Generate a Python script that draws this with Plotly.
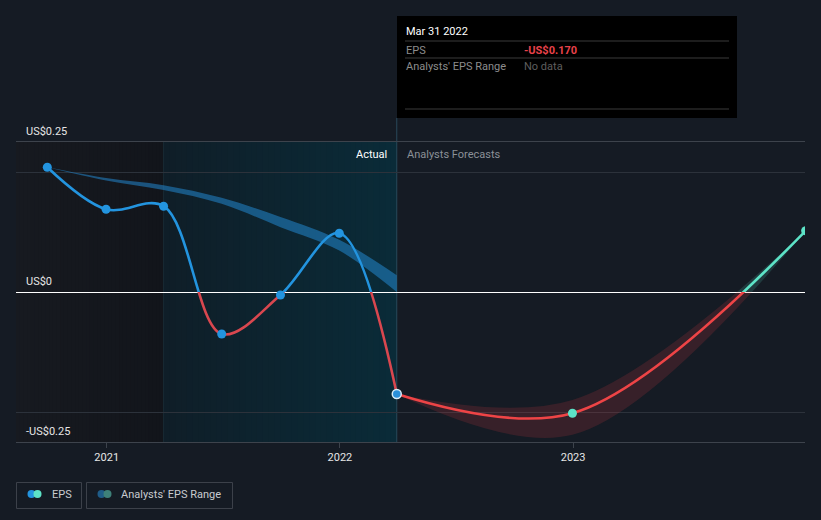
import plotly.graph_objects as go
import pandas as pd
import numpy as np

# ---------------- data ----------------
actual_dates = ["2020-09-30", "2020-12-31", "2021-03-31", "2021-06-30",
                "2021-09-30", "2021-12-31", "2022-03-31"]
actual_eps = [0.208, 0.138, 0.143, -0.070, -0.005, 0.098, -0.170]

forecast_dates = ["2022-03-31", "2022-12-31", "2023-12-31"]
forecast_eps = [-0.170, -0.202, 0.102]
forecast_high = [-0.170, -0.180, 0.102]
forecast_low = [-0.170, -0.238, 0.102]

past_range_dates = ["2020-09-30", "2020-12-31", "2021-03-31", "2021-06-30",
                    "2021-09-30", "2021-12-31", "2022-03-31"]
past_range_high = [0.208, 0.190, 0.178, 0.157, 0.125, 0.087, 0.028]
past_range_low = [0.208, 0.186, 0.170, 0.147, 0.108, 0.069, 0.000]

tick_dates = ["2021-01-01", "2022-01-01", "2023-01-01"]
tick_labels = ["2021", "2022", "2023"]
y_label_vals = [0.25, 0, -0.25]
y_labels = ["US$0.25", "US$0", "-US$0.25"]

x_range = ["2020-08-12", "2023-12-30"]
y_range = [-0.25, 0.25]
past_start = "2021-03-31"
today = "2022-03-31"

# ---------------- styling ----------------
BG = "#151b24"
BLUE = "#2394df"
RED_A = "#d9474f"
RED_F = "#ee4446"
TEAL = "#5de3c7"
FONT = "Roboto"

W, H = 821, 520
ML, MR, MT, MB = 16, 16, 142, 78
PW, PH = W - ML - MR, H - MT - MB


def px(x):
    return (x - ML) / PW


def py(y):
    return (H - MB - y) / PH


fig = go.Figure()

# analysts' past EPS range band (main subplot)
fig.add_trace(go.Scatter(x=past_range_dates, y=past_range_high, mode="lines",
                         line=dict(width=0, shape="spline", color="rgba(0,0,0,0)"),
                         hoverinfo="skip", showlegend=False))
fig.add_trace(go.Scatter(x=past_range_dates, y=past_range_low, mode="lines",
                         line=dict(width=0, shape="spline", color="rgba(0,0,0,0)"),
                         fill="tonexty", fillcolor="rgba(35,135,205,0.55)",
                         hoverinfo="skip", showlegend=False))

# forecast band: below zero (y2) red, above zero (y3) teal
for ax, col in (("y2", "rgba(235,65,70,0.16)"), ("y3", "rgba(93,227,199,0.16)")):
    fig.add_trace(go.Scatter(x=forecast_dates, y=forecast_high, yaxis=ax, mode="lines",
                             line=dict(width=0, shape="spline", color="rgba(0,0,0,0)"),
                             hoverinfo="skip", showlegend=False))
    fig.add_trace(go.Scatter(x=forecast_dates, y=forecast_low, yaxis=ax, mode="lines",
                             line=dict(width=0, shape="spline", color="rgba(0,0,0,0)"),
                             fill="tonexty", fillcolor=col,
                             hoverinfo="skip", showlegend=False))

# actual EPS line, split at zero by clipping subplots
fig.add_trace(go.Scatter(x=actual_dates, y=actual_eps, yaxis="y2", mode="lines",
                         line=dict(color=RED_A, width=2.6, shape="spline"),
                         hoverinfo="skip", showlegend=False))
fig.add_trace(go.Scatter(x=actual_dates, y=actual_eps, yaxis="y3", mode="lines",
                         line=dict(color=BLUE, width=2.6, shape="spline"),
                         hoverinfo="skip", showlegend=False))

# forecast EPS line
fig.add_trace(go.Scatter(x=forecast_dates, y=forecast_eps, yaxis="y2", mode="lines",
                         line=dict(color=RED_F, width=2.6, shape="spline"),
                         hoverinfo="skip", showlegend=False))
fig.add_trace(go.Scatter(x=forecast_dates, y=forecast_eps, yaxis="y3", mode="lines",
                         line=dict(color=TEAL, width=2.6, shape="spline"),
                         hoverinfo="skip", showlegend=False))

# markers on top
fig.add_trace(go.Scatter(x=actual_dates[:-1], y=actual_eps[:-1], yaxis="y4", mode="markers",
                         marker=dict(color=BLUE, size=9),
                         hoverinfo="skip", showlegend=False))
fig.add_trace(go.Scatter(x=actual_dates[-1:], y=actual_eps[-1:], yaxis="y4", mode="markers",
                         marker=dict(color="#2a90da", size=9, line=dict(color="#d8ecf8", width=1.5)),
                         hoverinfo="skip", showlegend=False))
fig.add_trace(go.Scatter(x=forecast_dates[1:], y=forecast_eps[1:], yaxis="y4", mode="markers",
                         marker=dict(color=TEAL, size=9),
                         hoverinfo="skip", showlegend=False))

# ---------------- background shading (gradient stripes) ----------------
shapes = []


def stripes(start, end, c0, c1, n=40):
    edges = pd.date_range(pd.Timestamp(start), pd.Timestamp(end), periods=n + 1)
    c0 = np.array(c0, float)
    c1 = np.array(c1, float)
    for i in range(n):
        t = i / (n - 1)
        c = c0 + (c1 - c0) * t
        # each stripe overlaps the next one so no antialiasing seams show
        right = edges[min(i + 2, n)]
        shapes.append(dict(type="rect", xref="x", yref="paper",
                           x0=edges[i], x1=right, y0=0, y1=1,
                           fillcolor="rgb(%d,%d,%d)" % tuple(c.round()),
                           line=dict(width=0), layer="below"))


stripes(x_range[0], past_start, (23, 26, 32), (18, 21, 27))
stripes(past_start, today, (15, 30, 40), (10, 43, 56))

# vertical separators
shapes.append(dict(type="line", xref="x", yref="paper", x0=past_start, x1=past_start,
                   y0=0, y1=1, line=dict(color="rgba(70,120,140,0.18)", width=1), layer="between"))
shapes.append(dict(type="line", xref="x", yref="paper", x0=today, x1=today,
                   y0=0, y1=py(118), line=dict(color="#28495a", width=1), layer="between"))

# tooltip box
shapes.append(dict(type="rect", xref="paper", yref="paper",
                   x0=px(397), x1=px(737), y0=py(118), y1=py(16),
                   fillcolor="#000000", line=dict(width=0), layer="above"))
for yy in (41, 58, 109):
    shapes.append(dict(type="line", xref="paper", yref="paper",
                       x0=px(405), x1=px(729), y0=py(yy), y1=py(yy),
                       line=dict(color="#3a3a3a", width=1), layer="above"))

# legend boxes
for x0, x1 in ((16, 82), (86, 233)):
    shapes.append(dict(type="rect", xref="paper", yref="paper",
                       x0=px(x0 + 0.5), x1=px(x1 - 0.5), y0=py(508.5), y1=py(482.5),
                       line=dict(color="#3c414a", width=1), fillcolor="rgba(0,0,0,0)"))
for cx, col in ((31.5, BLUE), (37.5, TEAL), (101.5, "#1f5c88"), (107.5, "#3e8079")):
    shapes.append(dict(type="circle", xref="paper", yref="paper",
                       x0=px(cx - 4), x1=px(cx + 4), y0=py(498), y1=py(490),
                       fillcolor=col, line=dict(width=0)))

# ---------------- annotations ----------------
ann = []
for v, t in zip(y_label_vals, y_labels):
    ann.append(dict(x=px(24), xref="paper", y=v, yref="y", text=t, showarrow=False,
                    xanchor="left", yanchor="bottom", yshift=2,
                    font=dict(family=FONT, size=11, color="#e6e6e6")))

ann.append(dict(x=px(389), xref="paper", y=py(154), yref="paper", text="Actual",
                showarrow=False, xanchor="right", yanchor="middle",
                font=dict(family=FONT, size=11, color="#ffffff")))
ann.append(dict(x=px(405), xref="paper", y=py(154), yref="paper", text="Analysts Forecasts",
                showarrow=False, xanchor="left", yanchor="middle",
                font=dict(family=FONT, size=11, color="#8b9097")))

# tooltip text
ann.append(dict(x=px(404), xref="paper", y=py(31.5), yref="paper", text="Mar 31 2022",
                showarrow=False, xanchor="left", yanchor="middle",
                font=dict(family=FONT, size=11, color="#ffffff")))
ann.append(dict(x=px(404), xref="paper", y=py(50), yref="paper", text="EPS",
                showarrow=False, xanchor="left", yanchor="middle",
                font=dict(family=FONT, size=11, color="#8c8c8c")))
ann.append(dict(x=px(522), xref="paper", y=py(50), yref="paper", text="<b>-US$0.170</b>",
                showarrow=False, xanchor="left", yanchor="middle",
                font=dict(family=FONT, size=11, color="#e8424a")))
ann.append(dict(x=px(404), xref="paper", y=py(66.5), yref="paper", text="Analysts' EPS Range",
                showarrow=False, xanchor="left", yanchor="middle",
                font=dict(family=FONT, size=11, color="#8c8c8c")))
ann.append(dict(x=px(522), xref="paper", y=py(66.5), yref="paper", text="No data",
                showarrow=False, xanchor="left", yanchor="middle",
                font=dict(family=FONT, size=11, color="#5e5e5e")))

# legend text
ann.append(dict(x=px(50), xref="paper", y=py(494), yref="paper", text="EPS",
                showarrow=False, xanchor="left", yanchor="middle",
                font=dict(family=FONT, size=11, color="#c8cbd0")))
ann.append(dict(x=px(119), xref="paper", y=py(494), yref="paper", text="Analysts' EPS Range",
                showarrow=False, xanchor="left", yanchor="middle",
                font=dict(family=FONT, size=11, color="#c8cbd0")))

fig.update_layout(
    width=W, height=H, autosize=False,
    margin=dict(l=ML, r=MR, t=MT, b=MB, pad=0),
    paper_bgcolor=BG, plot_bgcolor="rgba(0,0,0,0)",
    showlegend=False, hovermode=False,
    font=dict(family=FONT, size=11, color="#e6e6e6"),
    xaxis=dict(type="date", range=x_range, showgrid=False, zeroline=False,
               showline=True, linecolor="#3d434c", linewidth=1, mirror=True,
               ticks="outside", ticklen=5, tickcolor="#3d434c",
               tickvals=tick_dates, ticktext=tick_labels,
               tickfont=dict(family=FONT, size=11, color="#e6e6e6"), fixedrange=True),
    yaxis=dict(range=y_range, tickvals=[-0.2, 0.2], showticklabels=False,
               showgrid=True, gridcolor="#2c323b", gridwidth=1,
               zeroline=True, zerolinecolor="#ffffff", zerolinewidth=1,
               showline=False, ticks="", fixedrange=True),
    yaxis2=dict(domain=[0, 0.5], range=[y_range[0], 0], anchor="x", visible=False, fixedrange=True),
    yaxis3=dict(domain=[0.5, 1], range=[0, y_range[1]], anchor="x", visible=False, fixedrange=True),
    yaxis4=dict(domain=[0, 1], range=y_range, anchor="x", visible=False, fixedrange=True),
    shapes=shapes, annotations=ann,
)

fig.write_html("out.html", config=dict(displayModeBar=False))
